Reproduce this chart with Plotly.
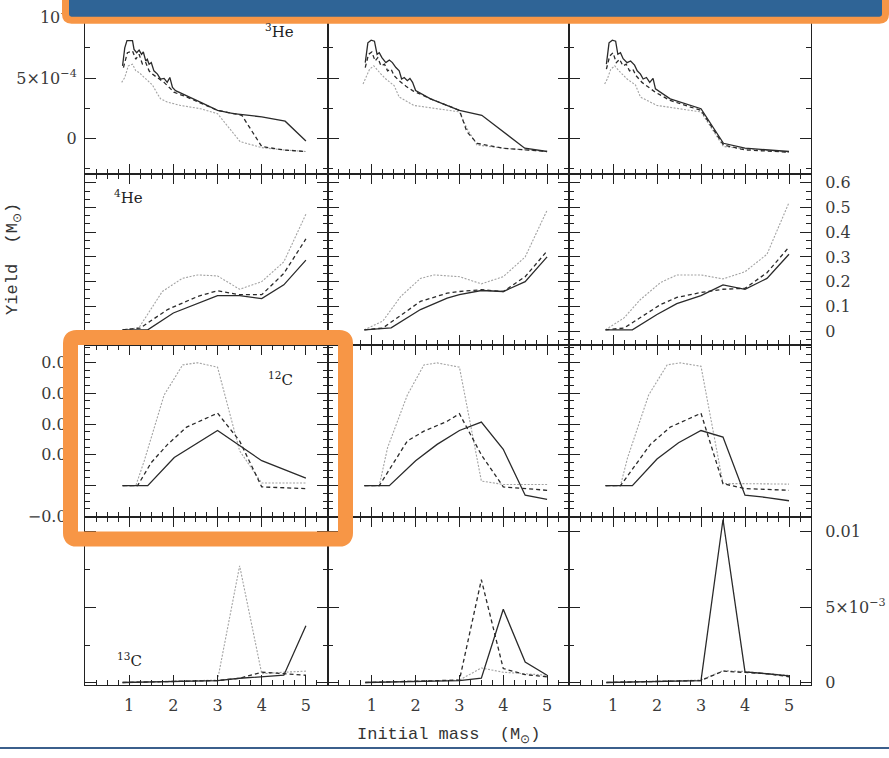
import plotly.graph_objects as go

W, H = 889, 758

# ---------------- data (initial mass in M_sun) ----------------
# Row 1: 3He yields, in units of 1e-3 M_sun
HE3_C1_S_X = [0.85,0.90,0.95,1.075,1.11,1.17,1.225,1.28,1.32,1.375,1.41,1.45,1.50,1.56,1.64,1.71,1.79,1.86,1.92,1.98,2.05,2.31,2.61,3.0,3.36,4.0,4.53,5.0]
HE3_C1_S_Y = [0.601,0.751,0.811,0.811,0.738,0.710,0.732,0.697,0.716,0.642,0.656,0.615,0.628,0.560,0.533,0.492,0.497,0.464,0.505,0.423,0.396,0.355,0.301,0.232,0.205,0.178,0.142,-0.022]
HE3_C1_D_X = [0.87,0.96,1.075,1.15,1.225,1.30,1.375,1.45,1.525,1.64,1.79,1.94,2.01,2.31,2.61,3.0,3.55,4.0,4.49,5.0]
HE3_C1_D_Y = [0.587,0.710,0.724,0.656,0.697,0.615,0.628,0.560,0.533,0.505,0.464,0.410,0.383,0.342,0.295,0.232,0.191,-0.068,-0.096,-0.109]
HE3_C1_P_X = [0.83,0.90,0.98,1.075,1.15,1.225,1.30,1.41,1.525,1.64,1.71,1.86,2.16,2.61,3.0,3.51,4.0,4.49,5.0]
HE3_C1_P_Y = [0.464,0.505,0.601,0.615,0.560,0.546,0.519,0.478,0.443,0.369,0.328,0.301,0.273,0.246,0.205,-0.027,-0.077,-0.096,-0.109]

HE3_C2_S_X = [0.85,0.91,0.985,1.06,1.12,1.17,1.23,1.32,1.40,1.47,1.55,1.625,1.68,1.74,1.81,1.87,1.93,2.0,2.34,3.0,3.51,4.49,5.0]
HE3_C2_S_Y = [0.628,0.792,0.814,0.806,0.697,0.710,0.669,0.628,0.650,0.628,0.587,0.560,0.492,0.505,0.478,0.497,0.464,0.396,0.328,0.232,0.191,-0.082,-0.109]
HE3_C2_D_X = [0.85,0.925,1.0,1.075,1.135,1.21,1.29,1.36,1.44,1.51,1.625,1.78,1.93,2.34,3.0,3.17,3.40,4.0,5.0]
HE3_C2_D_Y = [0.587,0.697,0.716,0.642,0.669,0.601,0.615,0.560,0.574,0.519,0.478,0.432,0.396,0.328,0.232,0.055,-0.041,-0.082,-0.109]
HE3_C2_P_X = [0.80,0.87,0.95,1.045,1.135,1.21,1.32,1.51,1.625,1.70,1.96,3.0,3.17,3.40,4.0,5.0]
HE3_C2_P_Y = [0.451,0.505,0.574,0.601,0.560,0.533,0.492,0.437,0.342,0.328,0.273,0.219,0.082,-0.055,-0.082,-0.109]

HE3_C3_S_X = [0.85,0.91,0.985,1.06,1.11,1.17,1.23,1.32,1.40,1.49,1.55,1.625,1.685,1.76,1.835,1.91,1.965,2.30,3.0,3.51,4.0,5.0]
HE3_C3_S_Y = [0.615,0.792,0.814,0.806,0.697,0.710,0.661,0.628,0.642,0.607,0.560,0.533,0.492,0.505,0.464,0.497,0.410,0.328,0.246,-0.041,-0.082,-0.109]
HE3_C3_D_X = [0.85,0.925,1.0,1.075,1.15,1.225,1.30,1.375,1.45,1.525,1.66,1.81,1.96,2.30,3.0,3.51,4.0,5.0]
HE3_C3_D_Y = [0.574,0.683,0.710,0.628,0.656,0.601,0.615,0.560,0.574,0.519,0.464,0.423,0.383,0.314,0.232,-0.055,-0.096,-0.115]
HE3_C3_P_X = [0.81,0.87,0.95,1.04,1.135,1.21,1.32,1.51,1.625,1.70,2.0,3.0,3.51,4.0,5.0]
HE3_C3_P_Y = [0.451,0.492,0.574,0.601,0.560,0.533,0.492,0.443,0.342,0.328,0.273,0.219,-0.068,-0.087,-0.115]

# Row 2: 4He yields (M_sun)
HE4_C1_S_X = [0.85,1.42,2.0,2.55,3.0,3.5,4.0,4.5,5.0]
HE4_C1_S_Y = [0.005,0.005,0.073,0.113,0.143,0.143,0.131,0.187,0.287]
HE4_C1_D_X = [0.85,1.25,1.87,2.55,3.0,3.5,4.0,4.5,5.0]
HE4_C1_D_Y = [0.005,0.012,0.087,0.140,0.163,0.147,0.147,0.233,0.373]
HE4_C1_P_X = [0.85,1.22,1.75,2.2,2.55,3.0,3.5,4.0,4.5,5.0]
HE4_C1_P_Y = [0.005,0.013,0.160,0.213,0.227,0.223,0.169,0.200,0.280,0.473]

HE4_C2_S_X = [0.83,1.44,2.11,2.72,3.0,3.5,4.0,4.5,5.0]
HE4_C2_S_Y = [0.005,0.013,0.087,0.133,0.147,0.164,0.160,0.200,0.300]
HE4_C2_D_X = [0.83,1.25,2.11,2.72,3.0,3.5,4.0,4.5,5.0]
HE4_C2_D_Y = [0.005,0.012,0.120,0.153,0.160,0.167,0.160,0.220,0.324]
HE4_C2_P_X = [0.83,1.25,1.66,2.11,2.42,3.0,3.5,4.0,4.5,5.0]
HE4_C2_P_Y = [0.005,0.040,0.140,0.213,0.227,0.220,0.191,0.220,0.300,0.489]

HE4_C3_S_X = [0.83,1.44,2.0,2.45,3.0,3.5,4.0,4.5,5.0]
HE4_C3_S_Y = [0.005,0.005,0.067,0.111,0.143,0.187,0.169,0.213,0.311]
HE4_C3_D_X = [0.83,1.25,2.08,2.45,3.0,3.5,4.0,4.5,5.0]
HE4_C3_D_Y = [0.005,0.012,0.107,0.136,0.156,0.169,0.173,0.236,0.340]
HE4_C3_P_X = [0.83,1.25,1.62,2.08,2.45,3.0,3.5,4.0,4.5,5.0]
HE4_C3_P_Y = [0.005,0.053,0.127,0.196,0.227,0.227,0.211,0.240,0.311,0.520]

# Row 3: 12C yields (M_sun)
C12_C1_S_X = [0.85,1.42,2.02,3.0,4.0,5.0]
C12_C1_S_Y = [0.0,0.0,0.0183,0.0358,0.0162,0.0049]
C12_C1_D_X = [0.85,1.19,1.5,1.87,2.3,3.0,3.5,4.0,5.0]
C12_C1_D_Y = [0.0,0.0,0.015,0.0268,0.038,0.0471,0.029,-0.0008,-0.0019]
C12_C1_P_X = [0.85,1.15,1.34,1.79,2.21,2.55,3.0,3.5,4.0,5.0]
C12_C1_P_Y = [0.0,0.0,0.016,0.0588,0.0784,0.0798,0.0769,0.0226,0.0017,0.0017]

C12_C2_S_X = [0.83,1.4,2.0,2.49,3.0,3.5,4.0,4.5,5.0]
C12_C2_S_Y = [0.0,0.0,0.0162,0.0268,0.0358,0.0413,0.0236,-0.0062,-0.0089]
C12_C2_D_X = [0.83,1.17,1.81,2.19,2.72,3.0,3.5,4.0,5.0]
C12_C2_D_Y = [0.0,0.0,0.029,0.0354,0.0418,0.0467,0.020,-0.0008,-0.003]
C12_C2_P_X = [0.83,1.17,1.36,1.81,2.19,2.49,3.0,3.5,4.0,5.0]
C12_C2_P_Y = [0.0,0.0,0.0247,0.0588,0.0784,0.0797,0.0769,0.003,0.0008,0.0008]

C12_C3_S_X = [0.83,1.44,2.0,2.49,3.0,3.5,4.0,4.5,5.0]
C12_C3_S_Y = [0.0,0.0,0.0173,0.0279,0.0358,0.0315,-0.0062,-0.0077,-0.0098]
C12_C3_D_X = [0.83,1.17,1.85,2.3,3.0,3.5,4.0,5.0]
C12_C3_D_Y = [0.0,0.0,0.0268,0.038,0.047,0.0013,-0.0019,-0.003]
C12_C3_P_X = [0.83,1.17,1.33,1.81,2.23,2.53,3.0,3.5,4.0,5.0]
C12_C3_P_Y = [0.0,0.0,0.018,0.0588,0.0784,0.0797,0.0775,0.0013,0.0013,0.0010]

# Row 4: 13C yields, in units of 1e-3 M_sun
C13_X = [0.85,2.0,3.0,3.5,4.0,4.5,5.0]
C13_C1_S_Y = [0.02,0.08,0.15,0.30,0.40,0.50,3.77]
C13_C1_D_Y = [0.02,0.08,0.15,0.30,0.70,0.60,0.50]
C13_C1_P_Y = [0.02,0.08,0.18,7.74,0.60,0.70,0.77]
C13_C2_S_Y = [0.02,0.08,0.15,0.30,4.86,1.37,0.50]
C13_C2_D_Y = [0.02,0.08,0.18,6.82,0.94,0.54,0.40]
C13_C2_P_Y = [0.02,0.08,0.18,0.98,0.70,0.60,0.50]
C13_C3_S_Y = [0.02,0.08,0.15,10.80,0.72,0.60,0.46]
C13_C3_D_Y = [0.02,0.08,0.15,0.77,0.70,0.60,0.40]
C13_C3_P_Y = [0.02,0.08,0.18,0.80,0.75,0.60,0.50]

ISOTOPES = ["<sup>3</sup>He", "<sup>4</sup>He", "<sup>12</sup>C", "<sup>13</sup>C"]
X_TICKS = [1, 2, 3, 4, 5]
Y_TICKVALS = [[0, 0.5, 1.0],
              [0, 0.1, 0.2, 0.3, 0.4, 0.5, 0.6],
              [-0.02, 0, 0.02, 0.04, 0.06, 0.08],
              [0, 5, 10]]
Y_TICKTEXT = [["0", "5×10<sup>−4</sup>", "10<sup>−3</sup>"],
              ["0", "0.1", "0.2", "0.3", "0.4", "0.5", "0.6"],
              ["−0.02", "0", "0.02", "0.04", "0.06", "0.08"],
              ["0", "5×10<sup>−3</sup>", "0.01"]]

PANELS = [
    [[(HE3_C1_P_X, HE3_C1_P_Y, "dot"), (HE3_C1_D_X, HE3_C1_D_Y, "dash"), (HE3_C1_S_X, HE3_C1_S_Y, "solid")],
     [(HE3_C2_P_X, HE3_C2_P_Y, "dot"), (HE3_C2_D_X, HE3_C2_D_Y, "dash"), (HE3_C2_S_X, HE3_C2_S_Y, "solid")],
     [(HE3_C3_P_X, HE3_C3_P_Y, "dot"), (HE3_C3_D_X, HE3_C3_D_Y, "dash"), (HE3_C3_S_X, HE3_C3_S_Y, "solid")]],
    [[(HE4_C1_P_X, HE4_C1_P_Y, "dot"), (HE4_C1_D_X, HE4_C1_D_Y, "dash"), (HE4_C1_S_X, HE4_C1_S_Y, "solid")],
     [(HE4_C2_P_X, HE4_C2_P_Y, "dot"), (HE4_C2_D_X, HE4_C2_D_Y, "dash"), (HE4_C2_S_X, HE4_C2_S_Y, "solid")],
     [(HE4_C3_P_X, HE4_C3_P_Y, "dot"), (HE4_C3_D_X, HE4_C3_D_Y, "dash"), (HE4_C3_S_X, HE4_C3_S_Y, "solid")]],
    [[(C12_C1_P_X, C12_C1_P_Y, "dot"), (C12_C1_D_X, C12_C1_D_Y, "dash"), (C12_C1_S_X, C12_C1_S_Y, "solid")],
     [(C12_C2_P_X, C12_C2_P_Y, "dot"), (C12_C2_D_X, C12_C2_D_Y, "dash"), (C12_C2_S_X, C12_C2_S_Y, "solid")],
     [(C12_C3_P_X, C12_C3_P_Y, "dot"), (C12_C3_D_X, C12_C3_D_Y, "dash"), (C12_C3_S_X, C12_C3_S_Y, "solid")]],
    [[(C13_X, C13_C1_P_Y, "dot"), (C13_X, C13_C1_D_Y, "dash"), (C13_X, C13_C1_S_Y, "solid")],
     [(C13_X, C13_C2_P_Y, "dot"), (C13_X, C13_C2_D_Y, "dash"), (C13_X, C13_C2_S_Y, "solid")],
     [(C13_X, C13_C3_P_Y, "dot"), (C13_X, C13_C3_D_Y, "dash"), (C13_X, C13_C3_S_Y, "solid")]],
]

# ---------------- layout geometry (pixels) ----------------
COL_PX = [(85, 328), (328, 569), (569, 811)]
ROW_PX = [(2, 176), (176, 349), (349, 523), (523, 693)]
X_RANGE = [0, 5.5]
Y_RANGES = [[-0.295, 1.131], [-0.056, 0.636], [-0.0202, 0.0914], [-0.13, 10.98]]
Y_MINOR = [0.25, 0.1 / 3, 0.005, 2.5]
LABEL_COL = [0, 2, 0, 2]   # column carrying y tick labels for each row
LABEL_SIDE = ["left", "right", "left", "right"]

STYLE = {
    "solid": dict(color="#2a2a2a", width=1.3),
    "dash": dict(color="#2a2a2a", width=1.3, dash="4px,3px"),
    "dot": dict(color="#a3a3a3", width=1.1, dash="2px,1.5px"),
}

AX_COLOR = "#222222"
TICK_FONT = dict(family="DejaVu Serif", size=16, color="#3a3a3a")


def px_x(x):
    return x / W


def px_y(y):
    return 1 - y / H


fig = go.Figure()
layout = dict(
    width=W, height=H, autosize=False,
    margin=dict(l=0, r=0, t=0, b=0),
    paper_bgcolor="white", plot_bgcolor="white",
    showlegend=False,
)

for r in range(4):
    for c in range(3):
        k = r * 3 + c + 1
        sfx = "" if k == 1 else str(k)
        for xs, ys, st in PANELS[r][c]:
            fig.add_trace(go.Scatter(x=xs, y=ys, mode="lines", line=STYLE[st],
                                     xaxis="x" + sfx, yaxis="y" + sfx, hoverinfo="skip"))
        x0, x1 = COL_PX[c]
        y0, y1 = ROW_PX[r]
        layout["xaxis" + sfx] = dict(
            domain=[px_x(x0), px_x(x1)], range=X_RANGE, anchor="y" + sfx,
            tickmode="array", tickvals=X_TICKS, ticktext=[str(t) for t in X_TICKS],
            ticks="inside", ticklen=10, tickwidth=1.2, tickcolor=AX_COLOR,
            minor=dict(tickmode="linear", tick0=0, dtick=0.25, ticks="inside",
                       ticklen=5, tickwidth=1.1, tickcolor=AX_COLOR, showgrid=False),
            showline=True, linecolor=AX_COLOR, linewidth=1, mirror="ticks",
            showgrid=False, zeroline=False,
            showticklabels=(r == 3), tickfont=TICK_FONT, ticklabelstandoff=6,
        )
        show_lbl = (c == LABEL_COL[r])
        layout["yaxis" + sfx] = dict(
            domain=[px_y(y1), px_y(y0)], range=Y_RANGES[r], anchor="x" + sfx,
            side=LABEL_SIDE[r] if show_lbl else "left",
            tickmode="array", tickvals=Y_TICKVALS[r], ticktext=Y_TICKTEXT[r],
            ticks="inside", ticklen=11, tickwidth=1.2, tickcolor=AX_COLOR,
            minor=dict(tickmode="linear", tick0=0, dtick=Y_MINOR[r], ticks="inside",
                       ticklen=5, tickwidth=1.1, tickcolor=AX_COLOR, showgrid=False),
            showline=True, linecolor=AX_COLOR, linewidth=1, mirror="ticks",
            showgrid=False, zeroline=False,
            showticklabels=show_lbl, tickfont=TICK_FONT,
            ticklabelstandoff=(10 if LABEL_SIDE[r] == "right" else 4),
        )

LABEL_POS = [(279, 31), (128, 199), (280, 384), (129, 668)]
annotations = []
for (x, y), txt in zip(LABEL_POS, ISOTOPES):
    annotations.append(dict(x=px_x(x), y=px_y(y), xref="paper", yref="paper",
                            text=txt, showarrow=False, xanchor="center", yanchor="middle",
                            font=dict(family="DejaVu Serif", size=15, color="#222222")))
annotations.append(dict(x=px_x(449), y=px_y(745), xref="paper", yref="paper",
                        text="Initial mass  (M<sub>⊙</sub>)", showarrow=False,
                        xanchor="center", yanchor="middle",
                        font=dict(family="Liberation Mono", size=17, color="#333333")))
annotations.append(dict(x=px_x(14), y=px_y(262), xref="paper", yref="paper",
                        text="Yield  (M<sub>⊙</sub>)", showarrow=False, textangle=-90,
                        xanchor="center", yanchor="middle",
                        font=dict(family="Liberation Mono", size=17, color="#333333")))
layout["annotations"] = annotations


def rounded_path(x0, y0, x1, y1, rad):
    pts = [
        ("M", [(x0 + rad, y0)]),
        ("L", [(x1 - rad, y0)]), ("Q", [(x1, y0), (x1, y0 + rad)]),
        ("L", [(x1, y1 - rad)]), ("Q", [(x1, y1), (x1 - rad, y1)]),
        ("L", [(x0 + rad, y1)]), ("Q", [(x0, y1), (x0, y1 - rad)]),
        ("L", [(x0, y0 + rad)]), ("Q", [(x0, y0), (x0 + rad, y0)]),
    ]
    s = ""
    for cmd, ps in pts:
        s += cmd + " " + " ".join(f"{px_x(a):.5f},{px_y(b):.5f}" for a, b in ps) + " "
    return s + "Z"


ORANGE = "#F79646"
BLUE = "#2F6496"
shapes = [
    # top banner
    dict(type="path", xref="paper", yref="paper", layer="above",
         path=rounded_path(65.5, -20, 885.5, 20.5, 6),
         fillcolor=BLUE, line=dict(color=ORANGE, width=7)),
    # highlight box around 12C panel
    dict(type="path", xref="paper", yref="paper", layer="above",
         path=rounded_path(70.5, 341.5, 345.5, 545.5, 6),
         fillcolor="rgba(0,0,0,0)", line=dict(color=ORANGE, width=15)),
    # bottom thin line
    dict(type="line", xref="paper", yref="paper", layer="above",
         x0=0, x1=1, y0=px_y(757), y1=px_y(757), line=dict(color="#3B5F8C", width=2)),
]
layout["shapes"] = shapes

fig.update_layout(**layout)
fig.write_html("out.html")
